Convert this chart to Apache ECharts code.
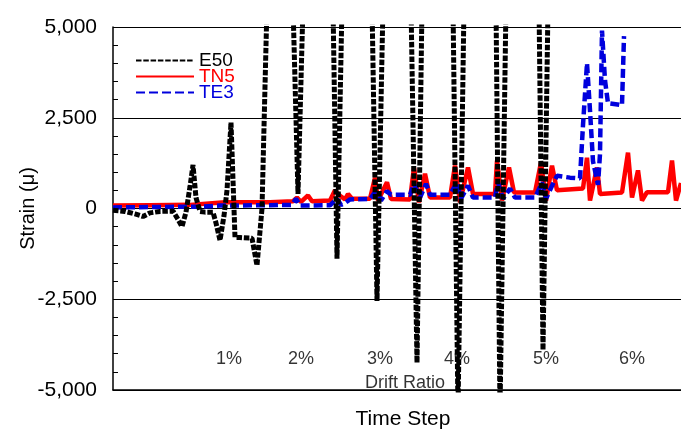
<!DOCTYPE html>
<html>
<head>
<meta charset="utf-8">
<script src="https://cdn.jsdelivr.net/npm/echarts@6/dist/echarts.min.js"></script>
<style>
html,body{margin:0;padding:0;background:#fff}
#container{width:681px;height:430px}
</style>
</head>
<body>
<div id="container"></div>
<script>
// strain history (time step, microstrain)
var e50Step = [0,12,22,30,37,47,60,65,69,73,77,80,83,87,92,100,103,107,111,114,118,122,127,139,144,149,154,167,180,185,190,207,220,224,229,247,259,264,270,287,298,304,309,327,340,345,351,367,383,387,393,407,426,430,435];
var e50Strain = [-50,-80,-150,-220,-120,-80,-70,-300,-500,-100,600,1200,300,-80,-100,-100,-400,-880,-200,500,2370,-800,-800,-820,-1570,0,5600,6500,5600,400,5600,6500,5600,-1380,5600,6500,5600,-2550,5600,6500,5600,-4250,5600,6500,5600,-5600,5600,6500,5600,-5600,5600,6500,5600,-3900,5600];

var tn5Step = [0,37,77,112,157,180,184,188,195,199,217,222,227,232,235,239,257,262,265,274,278,297,301,306,312,317,337,342,347,355,360,382,384,389,396,401,422,428,433,439,444,470,474,477,484,487,509,515,519,525,529,534,555,559,563,568];
var tn5Strain = [80,90,100,170,170,200,300,180,360,200,220,500,350,250,400,270,270,850,220,720,260,250,1130,170,960,300,300,1180,170,1130,400,400,1320,220,1130,440,440,1270,220,1180,500,550,1400,220,1130,400,440,1540,300,1050,220,450,450,1320,220,700];

var te3Step = [0,37,87,107,157,179,183,187,217,224,228,232,237,257,262,268,274,278,297,301,307,313,317,337,344,348,355,360,382,385,390,397,402,422,429,433,440,444,457,467,470,474,477,480,485,487,489,492,495,509,511];
var te3Strain = [30,40,50,80,90,100,270,80,90,270,100,150,250,260,450,220,480,380,380,680,300,680,380,380,720,270,630,300,300,720,270,550,300,300,720,270,680,900,850,830,2300,4000,2700,1300,650,1500,4900,3530,2900,2850,4750];

// drift ratio notes under the curves
var driftLabels = ['1%','2%','3%','4%','5%','6%','Drift Ratio'];
var driftStep = [116,188,267,344,433,519,292];
var driftStrain = [-4150,-4150,-4150,-4150,-4150,-4150,-4800];

function pairs(xs, ys) {
    return xs.map(function (x, i) { return [x, ys[i]]; });
}

var font = 'Liberation Sans, Arial, sans-serif';
var myChart = echarts.init(document.getElementById('container'));
var option = {
    animation: false,
    textStyle: {fontFamily: font},
    grid: {left: 113, right: 0, top: 27, bottom: 40, outerBoundsMode: 'none', containLabel: false},
    legend: {
        orient: 'vertical',
        left: 135,
        top: 51,
        padding: 0,
        itemWidth: 58,
        itemHeight: 14,
        itemGap: -3,
        itemStyle: {opacity: 0},
        textStyle: {fontSize: 19, fontFamily: font},
        data: [
            {name: 'E50', textStyle: {color: '#000'}},
            {name: 'TN5', textStyle: {color: '#ff0000'}},
            {name: 'TE3', textStyle: {color: '#0000dd'}}
        ]
    },
    xAxis: {
        type: 'value',
        min: 0,
        max: 568,
        name: 'Time Step',
        nameLocation: 'middle',
        nameGap: 19,
        nameMoveOverlap: false,
        nameTextStyle: {fontSize: 21, color: '#000', padding: [0, 0, 0, 12]},
        axisLine: {onZero: false, lineStyle: {color: '#000', width: 1.5}},
        axisTick: {show: false},
        axisLabel: {show: false},
        splitLine: {show: false}
    },
    yAxis: [
        {
            type: 'value',
            min: -5000,
            max: 5000,
            interval: 2500,
            name: 'Strain (μ)',
            nameLocation: 'middle',
            nameGap: 75,
            nameMoveOverlap: false,
            nameTextStyle: {fontSize: 20, color: '#000'},
            axisLine: {show: true, lineStyle: {color: '#000', width: 1.5}},
            axisTick: {show: false},
            axisLabel: {
                fontSize: 21,
                color: '#000',
                margin: 16,
                formatter: function (v) { return v.toLocaleString('en-US'); }
            },
            splitLine: {show: true, lineStyle: {color: '#000', width: 1}}
        },
        {
            // tick marks every 500, drawn inside the plot
            type: 'value',
            position: 'left',
            min: -5000,
            max: 5000,
            interval: 500,
            axisLine: {show: false},
            axisTick: {show: true, inside: true, length: 5, lineStyle: {color: '#000'}},
            axisLabel: {show: false},
            splitLine: {show: false}
        }
    ],
    series: [
        {
            name: 'E50',
            type: 'line',
            symbol: 'none',
            data: pairs(e50Step, e50Strain),
            lineStyle: {color: '#000', width: 5, type: [5.5, 1.8]},
            itemStyle: {color: '#000'},
            z: 3
        },
        {
            name: 'TN5',
            type: 'line',
            symbol: 'none',
            data: pairs(tn5Step, tn5Strain),
            lineStyle: {color: '#ff0000', width: 4.5},
            itemStyle: {color: '#ff0000'},
            z: 2
        },
        {
            name: 'TE3',
            type: 'line',
            symbol: 'none',
            data: pairs(te3Step, te3Strain),
            lineStyle: {color: '#0000dd', width: 4.5, type: [9, 4]},
            itemStyle: {color: '#0000dd'},
            z: 2
        },
        {
            name: 'drift',
            type: 'scatter',
            symbolSize: 0,
            silent: true,
            data: driftStep.map(function (x, i) {
                return {name: driftLabels[i], value: [x, driftStrain[i]]};
            }),
            label: {
                show: true,
                position: 'inside',
                formatter: '{b}',
                color: '#000',
                fontSize: 18,
                fontFamily: font
            }
        }
    ]
};

myChart.setOption(option);
</script>
</body>
</html>
